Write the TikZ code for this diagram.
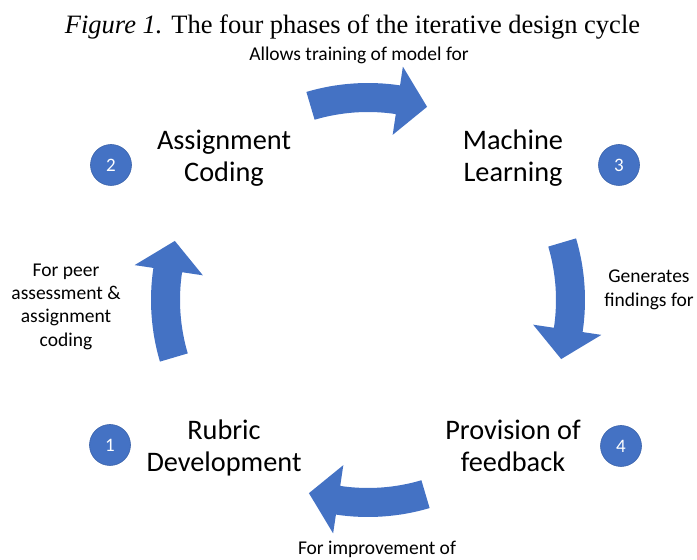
\documentclass[tikz,border=0pt]{standalone}
\usepackage{fontspec}
\setmainfont{Carlito}
\newfontfamily\titlefont{Liberation Serif}
\definecolor{cycleblue}{HTML}{4472C4}
\definecolor{cycleedge}{HTML}{3A62AA}
\begin{document}
\begin{tikzpicture}[x=1pt,y=1pt,
  phase/.style={align=center, inner sep=0pt, font=\fontsize{28.3}{32}\selectfont},
  note/.style={align=center, inner sep=0pt, font=\fontsize{19.5}{23.4}\selectfont},
  badge/.style={circle, fill=cycleblue, draw=cycleedge, line width=0.6pt,
    minimum size=41pt, inner sep=0pt, text=white, font=\fontsize{19}{22}\selectfont},
  cyclearrow/.style={fill=cycleblue}]
\clip (0,0) rectangle (697,560);
\useasboundingbox (0,0) rectangle (697,560);

% four curved arrows on a common circle, running clockwise
\begin{scope}[shift={(368,260)}]
  \foreach \t in {90,0,-90,180}{
    \fill[cyclearrow] (\t+16.5:217pt)
      arc[start angle=\t+16.5, end angle=\t-8.5, radius=217pt]
      -- (\t-8.5:236pt) -- (\t-17:202pt) -- (\t-8.5:167pt) -- (\t-8.5:188pt)
      arc[start angle=\t-8.5, end angle=\t+16.5, radius=188pt] -- cycle;
  }
\end{scope}

% caption
\node[anchor=base, inner sep=0pt, font=\titlefont\fontsize{26.5}{30}\selectfont]
  (title) at (352.5,526) {\textit{Figure 1.} The four phases of the iterative design cycle};

% phases
\node[phase] (coding)   at (224,400.4) {\strut Assignment\\Coding\strut};
\node[phase] (learning) at (513,400.4) {\strut Machine\\Learning\strut};
\node[phase] (rubric)   at (224,110.4) {\strut Rubric\\Development\strut};
\node[phase] (feedback) at (513,110.4) {\strut Provision of\\feedback\strut};

% transitions
\node[note, anchor=base] (n23) at (359,499) {Allows training of model for};
\node[note] (n34) at (649,270) {\strut Generates\\findings for\strut};
\node[note, anchor=base] (n41) at (377,5) {For improvement of};
\node[note] (n12) at (66,253.5) {\strut For peer\\assessment \&\\assignment\\coding\strut};

% phase numbers
\node[badge] (b1) at (110,115) {1};
\node[badge] (b2) at (111,395) {2};
\node[badge] (b3) at (619,395) {3};
\node[badge] (b4) at (621,114) {4};
\end{tikzpicture}
\end{document}
